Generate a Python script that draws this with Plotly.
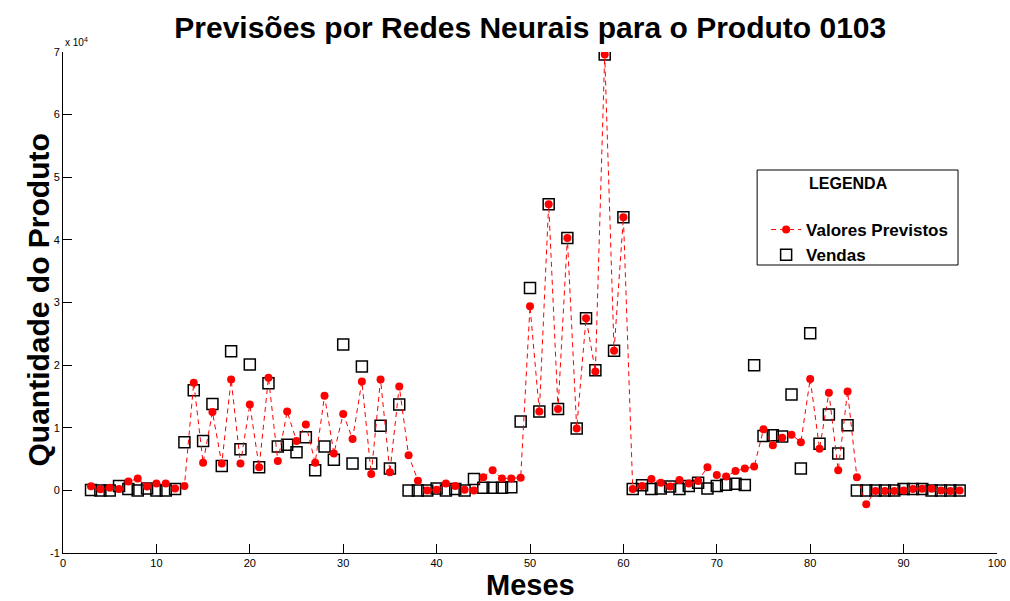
import plotly.graph_objects as go

months = [3, 4, 5, 6, 7, 8, 9, 10, 11, 12, 13, 14, 15, 16, 17, 18, 19, 20, 21, 22,
          23, 24, 25, 26, 27, 28, 29, 30, 31, 32, 33, 34, 35, 36, 37, 38, 39, 40, 41, 42,
          43, 44, 45, 46, 47, 48, 49, 50, 51, 52, 53, 54, 55, 56, 57, 58, 59, 60, 61, 62,
          63, 64, 65, 66, 67, 68, 69, 70, 71, 72, 73, 74, 75, 76, 77, 78, 79, 80, 81, 82,
          83, 84, 85, 86, 87, 88, 89, 90, 91, 92, 93, 94, 95, 96]

previstos = [640, 160, 400, 200, 1400, 1900, 600, 1100, 1100, 300,
             700, 17200, 4400, 12500, 4300, 17700, 4300, 13700, 3700, 18000,
             4700, 12600, 7900, 10500, 4400, 15100, 5900, 12200, 8200, 17400,
             2600, 17700, 2900, 16600, 5600, 1550, 0, 100, 1100, 700,
             100, 0, 2100, 3200, 1900, 1900, 2000, 29400, 12600, 45700,
             13000, 40300, 9900, 27500, 19000, 69600, 22300, 43600, 200, 700,
             1800, 1200, 600, 1650, 1100, 1500, 3700, 2450, 2200, 3100,
             3500, 3800, 9750, 7200, 8400, 8900, 7700, 17800, 6650, 15600,
             3200, 15800, 2100, -2200, -100, -100, -100, 0, 200, 250,
             250, 0, -100, 0]

vendas = [50, 0, 0, 700, 200, 0, 300, 0, 0, 200,
          7700, 16000, 7900, 13800, 3900, 22200, 6550, 20100, 3700, 17100,
          7000, 7300, 6100, 8500, 3200, 7000, 4900, 23300, 4300, 19800,
          4300, 10300, 3500, 13700, 0, 0, 0, 300, 0, 200,
          0, 1800, 400, 400, 400, 500, 11000, 32300, 12600, 45700,
          13000, 40300, 9900, 27500, 19200, 69600, 22300, 43600, 200, 800,
          200, 300, 600, 200, 700, 1200, 300, 700, 900, 1050,
          850, 20000, 8700, 8800, 8600, 15300, 3500, 25100, 7450, 12100,
          5900, 10400, 0, 0, 0, 0, 0, 200, 200, 200,
          0, 0, 0, 0]

x_ticks = [0, 10, 20, 30, 40, 50, 60, 70, 80, 90, 100]
y_tick_vals = [-10000, 0, 10000, 20000, 30000, 40000, 50000, 60000, 70000]
y_tick_text = ["-1", "0", "1", "2", "3", "4", "5", "6", "7"]

FONT = "Liberation Sans, Arial, Helvetica, sans-serif"

fig = go.Figure()
fig.add_trace(go.Scatter(
    x=months, y=vendas, mode="markers", name="<b>Vendas</b>",
    marker=dict(symbol="square-open", size=11, color="black", line=dict(width=1.5, color="black")),
    legendrank=2,
))
fig.add_trace(go.Scatter(
    x=months, y=previstos, mode="lines+markers", name="<b>Valores Previstos</b>",
    line=dict(color="red", width=1, dash="5px,4px"),
    marker=dict(symbol="circle", size=8, color="red"),
    legendrank=1,
))

L, R, T, B = 62.5, 13, 52, 48
W, H = 1010, 601
pw, ph = W - L - R, H - T - B

def px_x(p):
    return (p - L) / pw

def px_y(p):
    return (H - B - p) / ph

fig.update_layout(
    width=W, height=H,
    margin=dict(l=L, r=R, t=T, b=B, pad=0, autoexpand=False),
    paper_bgcolor="white", plot_bgcolor="white",
    font=dict(family=FONT, color="black", size=11),
    title=dict(text="<b>Previsões por Redes Neurais para o Produto 0103</b>",
               x=px_x(530), xref="paper", xanchor="center",
               y=1 - 27 / H, yanchor="middle",
               font=dict(size=30, family=FONT, color="black")),
    showlegend=True,
    legend=dict(x=px_x(766), y=px_y(212), xanchor="left", yanchor="top",
                bgcolor="rgba(0,0,0,0)", borderwidth=0,
                font=dict(size=17, family=FONT, color="black"),
                tracegroupgap=0, itemwidth=30),
    xaxis=dict(range=[0, 100], tickvals=x_ticks, showgrid=False, zeroline=False,
               showline=True, linecolor="black", linewidth=1, mirror=False,
               ticks="inside", ticklen=9, tickcolor="black", automargin=False,
               tickfont=dict(size=11, family=FONT)),
    yaxis=dict(range=[-10000, 70000], tickvals=y_tick_vals, ticktext=y_tick_text,
               showgrid=False, zeroline=False,
               showline=True, linecolor="black", linewidth=1, mirror=False,
               ticks="inside", ticklen=9, tickcolor="black", automargin=False,
               tickfont=dict(size=11, family=FONT)),
    shapes=[dict(type="rect", xref="paper", yref="paper",
                 x0=px_x(757), x1=px_x(958), y0=px_y(265), y1=px_y(170),
                 line=dict(color="black", width=1), fillcolor="rgba(0,0,0,0)")],
    annotations=[
        dict(text="<b>LEGENDA</b>", xref="paper", yref="paper",
             x=px_x(848), y=px_y(184), xanchor="center", yanchor="middle",
             showarrow=False, font=dict(size=16, family=FONT)),
        dict(text="x 10<sup>4</sup>", xref="paper", yref="paper",
             x=px_x(62), y=px_y(42), xanchor="left", yanchor="middle",
             showarrow=False, font=dict(size=10, family=FONT)),
        dict(text="<b>Meses</b>", xref="paper", yref="paper",
             x=px_x(530), y=px_y(585), xanchor="center", yanchor="middle",
             showarrow=False, font=dict(size=29, family=FONT)),
        dict(text="<b>Quantidade do Produto</b>", xref="paper", yref="paper",
             x=px_x(37), y=px_y(300), xanchor="center", yanchor="middle",
             textangle=-90, showarrow=False, font=dict(size=30, family=FONT)),
    ],
)

fig.write_html("out.html")
